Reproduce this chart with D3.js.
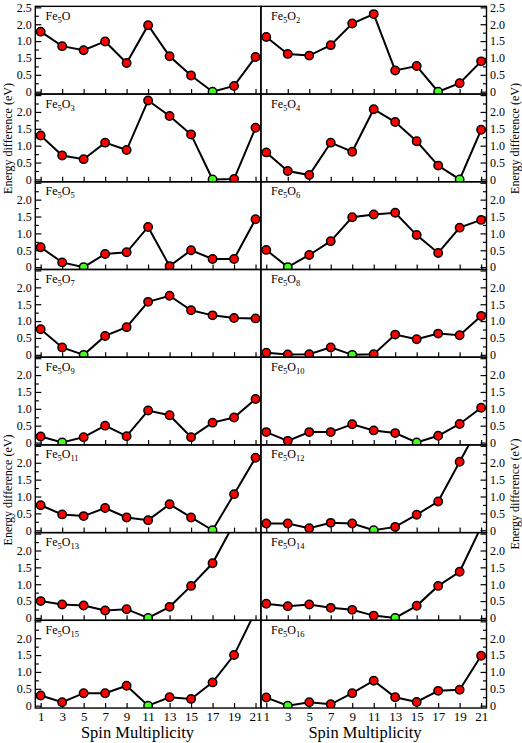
<!DOCTYPE html>
<html><head><meta charset="utf-8">
<script src="https://cdn.jsdelivr.net/npm/d3@7"></script>
<style>html,body{margin:0;padding:0;background:#fff;}svg{display:block;}
svg text{font-family:"Liberation Serif","DejaVu Serif",serif;}</style>
</head><body>
<svg id="chart" width="522" height="743"></svg>
<script>
// ---- data ----
const spin = [1,3,5,7,9,11,13,15,17,19,21];
const panelOxygen = [1,2,3,4,5,6,7,8,9,10,11,12,13,14,15,16];
const e1  = [1.78,1.35,1.23,1.49,0.85,1.97,1.05,0.48,0,0.17,1.03];
const e2  = [1.62,1.12,1.07,1.38,2.02,2.30,0.63,0.76,0,0.25,0.90];
const e3  = [1.30,0.71,0.60,1.09,0.87,2.34,1.88,1.33,0,0.01,1.53];
const e4  = [0.80,0.25,0.13,1.09,0.82,2.08,1.70,1.13,0.41,0,1.47];
const e5  = [0.59,0.14,0,0.39,0.44,1.19,0.03,0.50,0.24,0.24,1.42];
const e6  = [0.51,0,0.36,0.77,1.48,1.56,1.61,0.95,0.42,1.17,1.40];
const e7  = [0.76,0.22,0,0.56,0.82,1.57,1.75,1.32,1.17,1.09,1.08];
const e8  = [0.06,0.01,0.02,0.22,0,0.02,0.60,0.46,0.63,0.58,1.15];
const e9  = [0.18,0,0.16,0.50,0.19,0.95,0.81,0.16,0.59,0.74,1.29];
const e10 = [0.31,0.05,0.31,0.31,0.54,0.36,0.28,0,0.20,0.55,1.03];
const e11 = [0.74,0.47,0.42,0.66,0.38,0.30,0.77,0.38,0,1.07,2.15];
const e12 = [0.20,0.20,0.06,0.22,0.20,0,0.10,0.46,0.85,2.03,3.2];
const e13 = [0.50,0.40,0.37,0.22,0.26,0,0.33,0.95,1.62,2.8,3.5];
const e14 = [0.42,0.35,0.40,0.30,0.24,0.07,0,0.36,0.95,1.37,2.7];
const e15 = [0.30,0.10,0.37,0.37,0.59,0,0.25,0.20,0.69,1.50,2.8];
const e16 = [0.24,0,0.10,0.04,0.37,0.74,0.25,0.11,0.44,0.47,1.48];
const groundState = [17,17,17,19,5,3,5,9,3,15,17,11,11,13,11,3];
const yMajorTicks = [0,0.5,1,1.5,2,2.5];
const yMinorTicks = [0.25,0.75,1.25,1.75,2.25];
const yTickLabels = ["0","0.5","1.0","1.5","2.0","2.5"];
const yTickLabelsFirst = ["0","0.5","1.5","1.0","2.0","2.5"];
const yTitle = "Energy difference (eV)";
const xTitle = "Spin Multiplicity";

const energies = [e1,e2,e3,e4,e5,e6,e7,e8,e9,e10,e11,e12,e13,e14,e15,e16];

// ---- layout ----
const svg = d3.select("#chart");
const font = '"Liberation Serif","DejaVu Serif",serif';
const panelW = 225.6, panelH = 87.71, top0 = 6.35;
const colX = [35.3, 260.9];
const nRows = 8;

const defs = svg.append("defs");

energies.forEach((vals, i) => {
  const row = Math.floor(i / 2), col = i % 2;
  const x0 = colX[col], y0 = top0 + row * panelH;
  const x = d3.scaleLinear().domain([0.5, 21.5]).range([x0, x0 + panelW]);
  const y = d3.scaleLinear().domain([-0.07, 2.53]).range([y0 + panelH, y0]);
  const g = svg.append("g");
  const clipId = "clip" + i;
  defs.append("clipPath").attr("id", clipId).append("rect")
    .attr("x", x0).attr("y", y0).attr("width", panelW).attr("height", panelH);

  // x axis (inward ticks)
  const xAxis = d3.axisBottom(x).tickValues(spin).tickSizeInner(-5).tickSizeOuter(0).tickPadding(4)
    .tickFormat(row === nRows - 1 ? d3.format("d") : "");
  const gx = g.append("g").attr("transform", `translate(0,${y0 + panelH})`).call(xAxis);
  gx.attr("font-family", null);
  gx.select(".domain").remove();
  gx.selectAll("line").attr("stroke", "#000").attr("stroke-width", 1.2);
  gx.selectAll("text").style("font-family", font).attr("font-size", 13).attr("fill", "#000");

  // y axis
  const labels = i === 0 ? yTickLabelsFirst : yTickLabels;
  const fmt = (d) => {
    const k = yMajorTicks.indexOf(d);
    if (row > 0 && d === 2.5) return "";
    return labels[k];
  };
  const axisFn = col === 0 ? d3.axisLeft : d3.axisRight;
  const ax = col === 0 ? x0 : x0 + panelW;
  const yAxis = axisFn(y).tickValues(yMajorTicks).tickSizeInner(-6).tickSizeOuter(0).tickPadding(3.5).tickFormat(fmt);
  const gy = g.append("g").attr("transform", `translate(${ax},0)`).call(yAxis);
  gy.attr("font-family", null);
  gy.select(".domain").remove();
  gy.selectAll("line").attr("stroke", "#000").attr("stroke-width", 1.2);
  gy.selectAll("text").style("font-family", font).attr("font-size", 12).attr("fill", "#000");
  const yMinor = axisFn(y).tickValues(yMinorTicks).tickSizeInner(-3.5).tickSizeOuter(0).tickFormat("");
  const gym = g.append("g").attr("transform", `translate(${ax},0)`).call(yMinor);
  gym.select(".domain").remove();
  gym.selectAll("line").attr("stroke", "#000").attr("stroke-width", 1.2);

  // data
  const pts = spin.map((s, k) => ({s, v: vals[k]}));
  const pg = g.append("g").attr("clip-path", `url(#${clipId})`);
  pg.append("path").datum(pts)
    .attr("d", d3.line().x(d => x(d.s)).y(d => y(d.v)))
    .attr("fill", "none").attr("stroke", "#000").attr("stroke-width", 2);
  pg.selectAll("circle").data(pts).join("circle")
    .attr("cx", d => x(d.s)).attr("cy", d => y(d.v)).attr("r", 4.2)
    .attr("fill", d => d.s === groundState[i] ? "#44ff22" : "#ff0000")
    .attr("stroke", "#000").attr("stroke-width", 1.5);

  // frame
  g.append("rect").attr("x", x0).attr("y", y0).attr("width", panelW).attr("height", panelH)
    .attr("fill", "none").attr("stroke", "#000").attr("stroke-width", 1.4);

  // panel label
  const n = panelOxygen[i];
  const t = g.append("text").attr("x", col === 0 ? 45.5 : 271).attr("y", y0 + 13.5)
    .style("font-family", font).attr("font-size", 12).attr("fill", "#000");
  t.append("tspan").text("Fe");
  t.append("tspan").attr("dy", 3).attr("font-size", 8.5).text("5");
  t.append("tspan").attr("dy", -3).text("O");
  if (n > 1) t.append("tspan").attr("dy", 3).attr("font-size", 8.5).text(String(n));
});

// axis titles
[[8, 138.5], [8, 490], [515, 138.5], [515, 494]].forEach(([tx, ty]) => {
  svg.append("text").attr("transform", `translate(${tx},${ty}) rotate(-90)`)
    .attr("text-anchor", "middle").attr("dominant-baseline", "central")
    .style("font-family", font).attr("font-size", 12).attr("fill", "#000").text(yTitle);
});
[137.5, 365].forEach(cx => {
  svg.append("text").attr("x", cx).attr("y", 738).attr("text-anchor", "middle")
    .style("font-family", font).attr("font-size", 16.5).attr("fill", "#000").text(xTitle);
});
</script>
</body></html>
